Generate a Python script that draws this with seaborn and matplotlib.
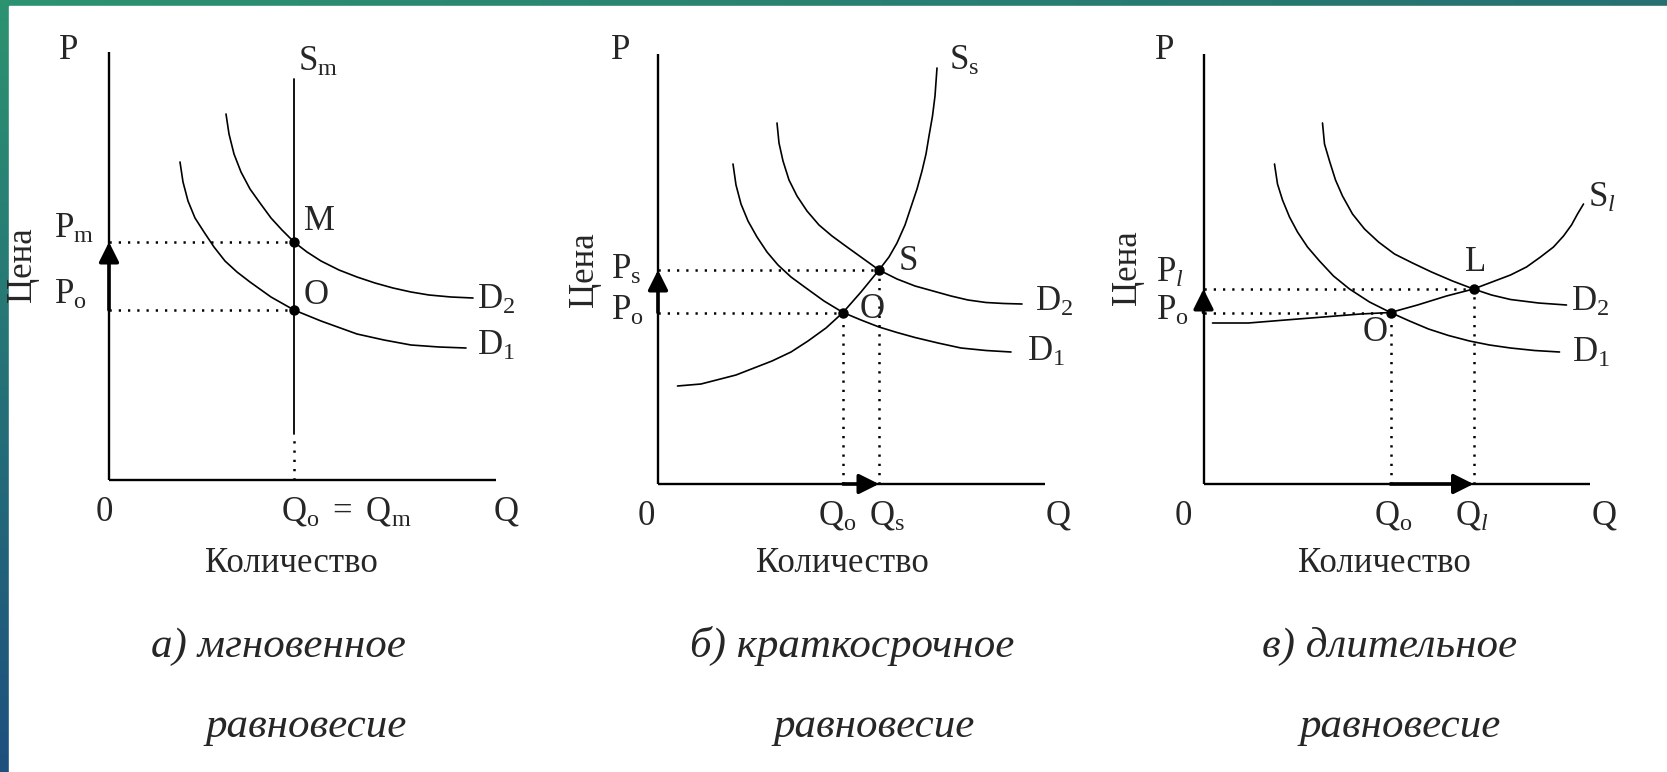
import numpy as np
import matplotlib
matplotlib.use('Agg')
import matplotlib.pyplot as plt
from matplotlib.patches import Rectangle
import seaborn as sns

# values: Q, P in plot units (origin = corner of the axes)

# а) мгновенное равновесие
a_d1_q = [7.1, 7.4, 7.9, 8.6, 9.5, 10.5, 11.6, 12.8, 14.1, 16.2, 18.5, 21.2, 24.8, 27.5, 30.2, 33.0, 35.7]
a_d1_p = [31.8, 29.8, 27.9, 26.2, 24.8, 23.3, 21.9, 20.8, 19.8, 18.3, 17.0, 15.9, 14.6, 14.0, 13.5, 13.3, 13.2]
a_d2_q = [11.7, 12.0, 12.5, 13.2, 14.1, 15.1, 16.2, 17.3, 18.5, 19.8, 21.2, 23.0, 24.8, 26.6, 28.4, 30.2,
          32.0, 34.2, 36.4]
a_d2_p = [36.6, 34.6, 32.6, 30.8, 29.1, 27.7, 26.2, 25.0, 23.8, 22.8, 21.9, 21.0, 20.3, 19.7, 19.2, 18.8,
          18.5, 18.3, 18.2]
a_sm_q = 18.5
a_sm_span = [4.6, 40.1]
a_p0, a_pm = 17.0, 23.8

# б) краткосрочное равновесие
b_ss_q = [1.95, 4.3, 7.8, 11.4, 13.3, 15.0, 16.8, 18.5, 20.3, 22.1, 23.1, 23.9, 24.7, 25.3, 25.9, 26.4,
          26.8, 27.1, 27.45, 27.7, 27.9]
b_ss_p = [9.8, 10.0, 10.9, 12.3, 13.2, 14.3, 15.6, 17.15, 19.2, 21.4, 22.7, 24.1, 25.9, 27.7, 29.5, 31.3,
          33.0, 34.8, 36.8, 38.8, 41.6]
b_d1_q = [7.5, 7.8, 8.3, 9.0, 9.9, 10.9, 12.0, 13.3, 14.8, 16.6, 18.5, 20.3, 22.1, 23.9, 25.7, 28.0, 30.3,
          32.8, 35.3]
b_d1_p = [32.0, 29.9, 28.0, 26.3, 24.7, 23.2, 21.9, 20.7, 19.6, 18.3, 17.15, 16.4, 15.7, 15.15, 14.65, 14.1,
          13.6, 13.35, 13.2]
b_d2_q = [11.9, 12.1, 12.5, 13.1, 13.9, 14.9, 16.1, 17.4, 18.9, 20.5, 22.1, 23.9, 25.7, 27.5, 29.3, 31.0,
          32.8, 34.6, 36.4]
b_d2_p = [36.1, 34.1, 32.3, 30.4, 28.8, 27.3, 25.9, 24.8, 23.7, 22.55, 21.4, 20.5, 19.8, 19.3, 18.8, 18.4,
          18.15, 18.05, 18.0]
b_q0, b_p0 = 18.5, 17.15
b_qs, b_ps = 22.1, 21.4

# в) длительное равновесие
c_sl_q = [0.9, 4.5, 8.2, 12.0, 15.7, 18.7, 21.4, 24.3, 27.0, 30.7, 32.3, 33.7, 35.0, 36.0, 36.8, 37.4, 38.0]
c_sl_p = [16.1, 16.1, 16.4, 16.7, 17.0, 17.15, 17.9, 18.8, 19.5, 20.9, 21.7, 22.7, 23.7, 24.8, 25.9, 27.0,
          28.0]
c_d1_q = [7.1, 7.4, 7.9, 8.6, 9.4, 10.4, 11.6, 13.0, 14.6, 16.6, 18.7, 20.6, 22.5, 24.5, 26.6, 28.6, 30.7,
          33.1, 35.6]
c_d1_p = [32.0, 30.0, 28.4, 26.7, 25.2, 23.7, 22.3, 20.8, 19.5, 18.2, 17.15, 16.3, 15.5, 14.85, 14.3, 13.9,
          13.6, 13.35, 13.2]
c_d2_q = [11.9, 12.1, 12.6, 13.2, 13.9, 14.9, 16.1, 17.5, 19.1, 20.9, 22.8, 24.9, 27.0, 28.8, 30.7, 33.5, 36.3]
c_d2_p = [36.1, 34.0, 32.3, 30.4, 28.8, 27.0, 25.5, 24.2, 23.0, 22.1, 21.2, 20.3, 19.5, 18.9, 18.45, 18.1,
          17.9]
c_q0, c_p0 = 18.7, 17.15
c_ql, c_pl = 27.0, 19.5

captions = [('а) мгновенное', 'равновесие'),
            ('б) краткосрочное', 'равновесие'),
            ('в) длительное', 'равновесие')]

sns.set_theme(style='white')
plt.rcParams['font.family'] = ['Liberation Serif', 'DejaVu Serif']
plt.rcParams['mathtext.fontset'] = 'custom'
plt.rcParams['mathtext.rm'] = 'Liberation Serif'
plt.rcParams['mathtext.it'] = 'Liberation Serif:italic'

W, H = 1667, 772
fig = plt.figure(figsize=(W / 100, H / 100), dpi=100)

# teal slide backdrop with a white sheet on it
bg = fig.add_axes([0, 0, 1, 1], zorder=-10)
yy, xx = np.mgrid[0:1:60j, 0:1:120j]
xx, yy = xx[..., None], yy[..., None]
tl, tr = np.array([44, 146, 112]), np.array([38, 112, 114])
bl, br = np.array([30, 80, 126]), np.array([28, 72, 116])
img = (tl * (1 - xx) * (1 - yy) + tr * xx * (1 - yy) + bl * (1 - xx) * yy + br * xx * yy) / 255
bg.imshow(img, extent=[0, W, H, 0], aspect='auto', interpolation='bilinear')
bg.add_patch(Rectangle((9, 6), W, H, color='white'))
bg.set_xlim(0, W)
bg.set_ylim(H, 0)
bg.axis('off')

DOT = (0, (0.9, 2.8))
FS = 25


def make_ax(x0, y0):
    ax = fig.add_axes([(x0 - 100) / W, 1 - (y0 + 60) / H, 530 / W, 520 / H])
    ax.set_xlim(-10, 43)
    ax.set_ylim(-6, 46)
    ax.axis('off')
    ax.patch.set_alpha(0)
    return ax


def frame(ax, top, right):
    ax.plot([0, 0], [0, top], color='black', lw=1.7, solid_capstyle='butt')
    ax.plot([0, right], [0, 0], color='black', lw=1.7, solid_capstyle='butt')


def curve(ax, q, p):
    sns.lineplot(x=q, y=p, sort=False, estimator=None, color='black', linewidth=1.2,
                 solid_joinstyle='round', ax=ax)


def hdots(ax, q, p):
    ax.plot([0, q], [p, p], color='black', lw=1.8, ls=DOT)


def vdots(ax, q, p0, p1):
    ax.plot([q, q], [p0, p1], color='black', lw=1.8, ls=DOT)


def point(ax, q, p):
    ax.plot([q], [p], 'o', color='black', ms=6.5)


def shift(ax, start, end):
    ax.annotate('', xy=end, xytext=start,
                arrowprops=dict(arrowstyle='-|>,head_length=0.6,head_width=0.3', color='black',
                                lw=2.6, mutation_scale=20, shrinkA=0, shrinkB=0))


def label(ax, q, p, s, ha='left', size=FS):
    ax.text(q, p, s, ha=ha, va='baseline', fontsize=size)


# ---- а) ----
ax = make_ax(109, 480)
frame(ax, 42.8, 38.7)
curve(ax, a_d1_q, a_d1_p)
curve(ax, a_d2_q, a_d2_p)
ax.plot([a_sm_q, a_sm_q], a_sm_span, color='black', lw=1.3)
vdots(ax, a_sm_q, 0, a_sm_span[0])
hdots(ax, a_sm_q, a_pm)
hdots(ax, a_sm_q, a_p0)
shift(ax, (0, a_p0), (0, a_pm))
point(ax, a_sm_q, a_pm)
point(ax, a_sm_q, a_p0)
label(ax, -5.0, 42.1, 'P')
label(ax, 18.9, 40.9, r'$\mathrm{S_m}$')
label(ax, -5.5, 24.2, r'$\mathrm{P_m}$')
label(ax, -5.5, 17.6, r'$\mathrm{P_o}$')
label(ax, 19.5, 25.0, 'M')
label(ax, 19.5, 17.6, 'O')
label(ax, 36.8, 17.1, r'$\mathrm{D_2}$')
label(ax, 36.8, 12.5, r'$\mathrm{D_1}$')
label(ax, -0.5, -4.1, '0', ha='center')
label(ax, 23.7, -4.1, r'$\mathrm{Q_o\ =\ Q_m}$', ha='center')
label(ax, 39.7, -4.1, 'Q', ha='center')
ax.text(-8.6, 21.5, 'Цена', rotation=90, ha='center', va='center', fontsize=FS)

# ---- б) ----
ax = make_ax(658, 484)
frame(ax, 43.0, 38.7)
curve(ax, b_ss_q, b_ss_p)
curve(ax, b_d1_q, b_d1_p)
curve(ax, b_d2_q, b_d2_p)
hdots(ax, b_qs, b_ps)
hdots(ax, b_q0, b_p0)
vdots(ax, b_q0, 0, b_p0)
vdots(ax, b_qs, 0, b_ps)
shift(ax, (0, b_p0), (0, b_ps))
shift(ax, (b_q0, 0), (b_qs, 0))
point(ax, b_qs, b_ps)
point(ax, b_q0, b_p0)
label(ax, -4.7, 42.5, 'P')
label(ax, 29.1, 41.4, r'$\mathrm{S_s}$')
label(ax, -4.7, 20.5, r'$\mathrm{P_s}$')
label(ax, -4.7, 16.4, r'$\mathrm{P_o}$')
label(ax, 24.1, 21.4, 'S')
label(ax, 20.2, 16.6, 'O')
label(ax, 37.7, 17.3, r'$\mathrm{D_2}$')
label(ax, 36.9, 12.3, r'$\mathrm{D_1}$')
label(ax, -1.2, -4.1, '0', ha='center')
label(ax, 17.9, -4.1, r'$\mathrm{Q_o}$', ha='center')
label(ax, 22.9, -4.1, r'$\mathrm{Q_s}$', ha='center')
label(ax, 40.0, -4.1, 'Q', ha='center')
ax.text(-7.4, 21.4, 'Цена', rotation=90, ha='center', va='center', fontsize=FS)

# ---- в) ----
ax = make_ax(1203.5, 484)
frame(ax, 43.0, 38.6)
curve(ax, c_sl_q, c_sl_p)
curve(ax, c_d1_q, c_d1_p)
curve(ax, c_d2_q, c_d2_p)
hdots(ax, c_ql, c_pl)
hdots(ax, c_q0, c_p0)
vdots(ax, c_q0, 0, c_p0)
vdots(ax, c_ql, 0, c_pl)
shift(ax, (0, c_p0), (0, c_pl))
shift(ax, (c_q0, 0), (c_ql, 0))
point(ax, c_ql, c_pl)
point(ax, c_q0, c_p0)
label(ax, -4.9, 42.5, 'P')
label(ax, 38.4, 27.7, r'$\mathrm{S}_{\mathit{l}}$')
label(ax, -4.7, 20.2, r'$\mathrm{P}_{\mathit{l}}$')
label(ax, -4.7, 16.4, r'$\mathrm{P_o}$')
label(ax, 26.2, 21.3, 'L')
label(ax, 15.9, 14.3, 'O')
label(ax, 36.7, 17.3, r'$\mathrm{D_2}$')
label(ax, 36.9, 12.2, r'$\mathrm{D_1}$')
label(ax, -2.0, -4.1, '0', ha='center')
label(ax, 19.0, -4.1, r'$\mathrm{Q_o}$', ha='center')
label(ax, 26.8, -4.1, r'$\mathrm{Q}_{\mathit{l}}$', ha='center')
label(ax, 40.1, -4.1, 'Q', ha='center')
ax.text(-7.6, 21.6, 'Цена', rotation=90, ha='center', va='center', fontsize=FS)

# axis titles and captions under each panel
for cx, (line1, line2), cx1, cx2 in zip([291, 842, 1384], captions, [278, 852, 1390], [306, 874, 1400]):
    fig.text(cx / W, 1 - 572 / H, 'Количество', ha='center', va='baseline', fontsize=25)
    fig.text(cx1 / W, 1 - 657 / H, line1, ha='center', va='baseline', fontsize=31, style='italic')
    fig.text(cx2 / W, 1 - 737 / H, line2, ha='center', va='baseline', fontsize=31, style='italic')

fig.savefig('out.png', dpi=100)
